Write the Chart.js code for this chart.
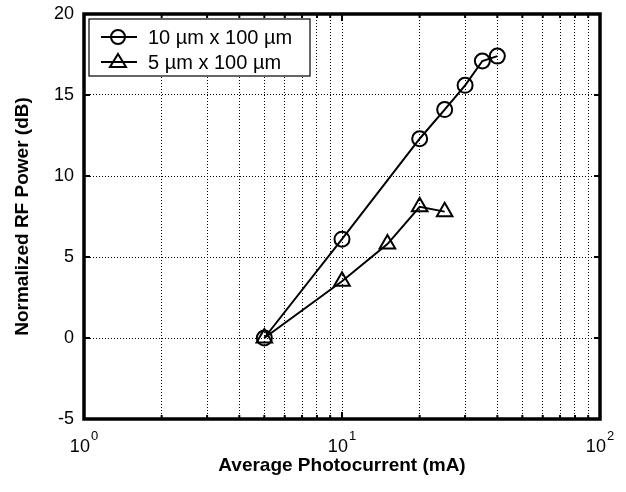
<!DOCTYPE html>
<html>
<head>
<meta charset="utf-8">
<script src="https://cdn.jsdelivr.net/npm/chart.js@4/dist/chart.umd.min.js"></script>
<style>
  html, body { margin: 0; padding: 0; background: #fff; }
  #wrap { width: 626px; height: 492px; }
</style>
</head>
<body>
<div id="wrap"><canvas id="rfChart" width="626" height="492"></canvas></div>
<script>
// photocurrent (mA) and normalized RF power (dB)
const wideCurrent = [5, 10, 20, 25, 30, 35, 40];
const widePower = [0, 6.1, 12.3, 14.1, 15.6, 17.1, 17.4];
const narrowCurrent = [5, 10, 15, 20, 25];
const narrowPower = [0, 3.5, 5.8, 8.1, 7.8];

const wideLabel = '10 \u00b5m x 100 \u00b5m';
const narrowLabel = '5 \u00b5m x 100 \u00b5m';

const xTickValues = [1, 2, 3, 4, 5, 6, 7, 8, 9, 10, 20, 30, 40, 50, 60, 70, 80, 90, 100];
// decade labels drawn as base + exponent
const xDecades = [1, 10, 100];
const xExponents = ['0', '1', '2'];
const yTickValues = [-5, 0, 5, 10, 15, 20];

const FONT = '"Liberation Sans", Arial, sans-serif';
const pts = (xs, ys) => xs.map((x, i) => ({ x: x, y: ys[i] }));

// box, inner ticks, 10^n labels and legend like the matlab figure
const framePlugin = {
  id: 'frame',
  afterDraw(chart) {
    const { ctx, chartArea: a } = chart;
    const xs = chart.scales.x, ys = chart.scales.y;
    ctx.save();
    ctx.strokeStyle = '#000';
    ctx.lineWidth = 3.5;
    ctx.strokeRect(a.left, a.top, a.right - a.left, a.bottom - a.top);

    // small tick marks pointing inward
    ctx.lineWidth = 2;
    xTickValues.forEach(v => {
      const px = xs.getPixelForValue(v);
      const len = xDecades.includes(v) ? 7 : 4;
      ctx.beginPath();
      ctx.moveTo(px, a.bottom); ctx.lineTo(px, a.bottom - len);
      ctx.moveTo(px, a.top); ctx.lineTo(px, a.top + len);
      ctx.stroke();
    });
    yTickValues.forEach(v => {
      const py = ys.getPixelForValue(v);
      ctx.beginPath();
      ctx.moveTo(a.left, py); ctx.lineTo(a.left + 6, py);
      ctx.moveTo(a.right, py); ctx.lineTo(a.right - 6, py);
      ctx.stroke();
    });

    // x decade labels with raised exponent
    ctx.fillStyle = '#000';
    ctx.textBaseline = 'alphabetic';
    ctx.textAlign = 'left';
    xDecades.forEach((v, i) => {
      const px = xs.getPixelForValue(v);
      ctx.font = '18px ' + FONT;
      const wb = ctx.measureText('10').width;
      ctx.font = '13px ' + FONT;
      const we = ctx.measureText(xExponents[i]).width;
      const x0 = px - (wb + we + 1) / 2;
      ctx.font = '18px ' + FONT;
      ctx.fillText('10', x0, 452);
      ctx.font = '13px ' + FONT;
      ctx.fillText(xExponents[i], x0 + wb + 1, 440);
    });

    // legend
    const bx = a.left + 5, by = a.top + 5, bw = 221, bh = 57;
    ctx.fillStyle = '#fff';
    ctx.fillRect(bx, by, bw, bh);
    ctx.lineWidth = 1.2;
    ctx.strokeRect(bx, by, bw, bh);
    const rows = [[wideLabel, 'circle'], [narrowLabel, 'triangle']];
    ctx.font = '20px ' + FONT;
    ctx.textBaseline = 'middle';
    rows.forEach((r, i) => {
      const cy = by + 18 + i * 25;
      ctx.strokeStyle = '#000';
      ctx.lineWidth = 2;
      ctx.beginPath();
      ctx.moveTo(bx + 12, cy); ctx.lineTo(bx + 48, cy);
      ctx.stroke();
      ctx.beginPath();
      if (r[1] === 'circle') {
        ctx.arc(bx + 29, cy, 7, 0, Math.PI * 2);
      } else {
        ctx.moveTo(bx + 29, cy - 8);
        ctx.lineTo(bx + 37, cy + 5);
        ctx.lineTo(bx + 21, cy + 5);
        ctx.closePath();
      }
      ctx.stroke();
      ctx.fillStyle = '#000';
      ctx.fillText(r[0], bx + 59, cy + 1);
    });
    ctx.restore();
  }
};

const ctx = document.getElementById('rfChart').getContext('2d');

new Chart(ctx, {
  type: 'line',
  data: {
    datasets: [{
      label: wideLabel,
      data: pts(wideCurrent, widePower),
      borderColor: '#000',
      borderWidth: 2,
      pointStyle: 'circle',
      pointRadius: 7.5,
      pointBorderWidth: 2,
      pointBackgroundColor: 'rgba(0,0,0,0)',
      pointBorderColor: '#000',
      fill: false,
      tension: 0
    }, {
      label: narrowLabel,
      data: pts(narrowCurrent, narrowPower),
      borderColor: '#000',
      borderWidth: 2,
      pointStyle: 'triangle',
      pointRadius: 9,
      pointBorderWidth: 2,
      pointBackgroundColor: 'rgba(0,0,0,0)',
      pointBorderColor: '#000',
      fill: false,
      tension: 0
    }]
  },
  options: {
    responsive: false,
    animation: false,
    layout: { padding: { top: 14, right: 26, left: 0, bottom: 0 } },
    plugins: {
      legend: { display: false },
      tooltip: { enabled: false }
    },
    scales: {
      x: {
        type: 'logarithmic',
        min: 1,
        max: 100,
        afterBuildTicks(scale) {
          scale.ticks = xTickValues.map(v => ({ value: v }));
        },
        afterFit(scale) {
          scale.height = 73;
          scale.paddingLeft = 0;
          scale.paddingRight = 0;
        },
        grid: {
          color: '#000',
          lineWidth: 1,
          drawTicks: false
        },
        border: { display: false, dash: [1, 2] },
        ticks: {
          autoSkip: false,
          maxRotation: 0,
          color: '#000',
          font: { family: FONT, size: 18 },
          callback: () => ''
        },
        title: {
          display: true,
          text: 'Average Photocurrent (mA)',
          color: '#000',
          font: { family: FONT, size: 19, weight: 'bold' },
          padding: { bottom: 15 }
        }
      },
      y: {
        min: -5,
        max: 20,
        afterBuildTicks(scale) {
          scale.ticks = yTickValues.map(v => ({ value: v }));
        },
        afterFit(scale) {
          scale.width = 84;
          scale.paddingTop = 0;
          scale.paddingBottom = 0;
        },
        grid: {
          color: '#000',
          lineWidth: 1,
          drawTicks: false
        },
        border: { display: false, dash: [1, 2] },
        ticks: {
          padding: 10,
          color: '#000',
          font: { family: FONT, size: 18 }
        },
        title: {
          display: true,
          text: 'Normalized RF Power (dB)',
          color: '#000',
          font: { family: FONT, size: 19, weight: 'bold' },
          padding: { top: 11 }
        }
      }
    }
  },
  plugins: [framePlugin]
});
</script>
</body>
</html>
